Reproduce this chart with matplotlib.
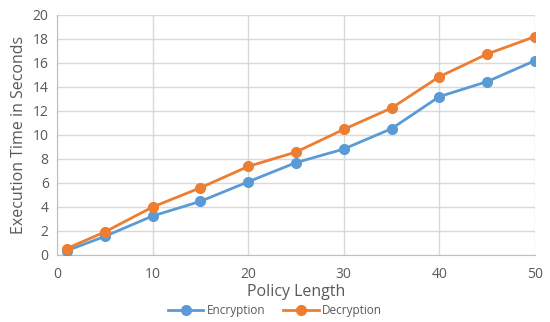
import matplotlib.pyplot as plt
import matplotlib.ticker as tic

plt.rcParams['font.family'] = ['Open Sans', 'DejaVu Sans']

policy_len = [1, 5, 10, 15, 20, 25, 30, 35, 40, 45, 50]
encryption = [0.35, 1.55, 3.25, 4.47, 6.1, 7.7, 8.83, 10.53, 13.2, 14.45, 16.2]
decryption = [0.53, 1.92, 4.0, 5.6, 7.38, 8.58, 10.47, 12.25, 14.86, 16.75, 18.2]

txt = '#595959'
fig = plt.figure(figsize=(5.5, 3.22), dpi=100)
ax = fig.add_axes([57/550, 1-255/322, (535-57)/550, (255-15)/322])

ax.plot(policy_len, encryption, '-o', color='#5B9BD5', lw=2, ms=7, label='Encryption', zorder=3)
ax.plot(policy_len, decryption, '-o', color='#ED7D31', lw=2, ms=7, label='Decryption', zorder=3)

ax.set_xlim(0, 50)
ax.set_ylim(0, 20)
ax.xaxis.set_major_locator(tic.MultipleLocator(10))
ax.yaxis.set_major_locator(tic.MultipleLocator(2))
ax.grid(True, color='#D9D9D9', lw=1)
ax.set_axisbelow(True)
for s in ['top', 'right']:
    ax.spines[s].set_visible(False)
for s in ['left', 'bottom']:
    ax.spines[s].set_color('#BFBFBF')
ax.tick_params(length=0, labelsize=10, colors=txt)
ax.tick_params(axis='x', pad=9)
ax.tick_params(axis='y', pad=6)

ax.set_xlabel('Policy Length', fontsize=11.5, color=txt, labelpad=1)
ax.set_ylabel('Execution Time in Seconds', fontsize=11.5, color=txt, labelpad=4)

leg = ax.legend(loc='center', bbox_to_anchor=(0.456, -0.23), ncol=2, frameon=False,
                fontsize=8.5, handlelength=3, columnspacing=1.5, handletextpad=0.3,
                borderpad=0)
for t in leg.get_texts():
    t.set_color(txt)

fig.savefig('out.png', dpi=100)
